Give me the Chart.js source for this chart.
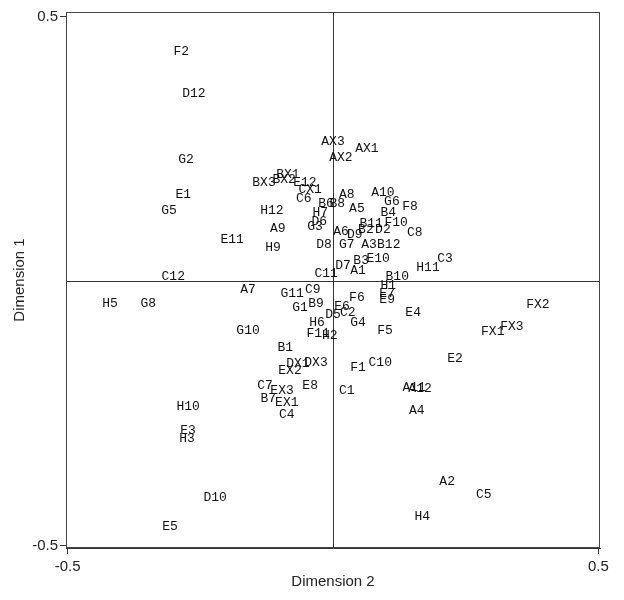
<!DOCTYPE html>
<html><head><meta charset="utf-8">
<script src="https://cdn.jsdelivr.net/npm/chart.js@4/dist/chart.umd.min.js"></script>
<style>html,body{margin:0;padding:0;background:#fff}</style></head>
<body><canvas id="c" width="624" height="600"></canvas>
<script>
const pointLabels = ["F2","D12","AX3","AX1","AX2","G2","BX1","BX3","BX2","E12","CX1","C6","E1","G5","A8","A10","G6","F8","A5","B4","H12","A9","G3","E11","H9","B11","F10","B2","D2","C8","D9","A6","G7","A3","B12","D8","E10","B3","D7","A1","C3","H11","B10","C11","H1","E7","E9","F6","E6","D5","C2","G4","G11","C9","G1","B9","H6","F11","H2","F5","E4","B1","C12","H5","G8","A7","G10","DX1","DX3","EX2","E8","C7","EX3","B7","EX1","C4","C1","F1","C10","A12","A4","E2","FX2","FX1","FX3","H10","E3","H3","D10","E5","A2","C5","H4","B6","B8","H7","D6","A11"];
const dim2 = [-0.286,-0.262,0.000,0.064,0.015,-0.277,-0.085,-0.130,-0.092,-0.053,-0.043,-0.055,-0.282,-0.309,0.026,0.094,0.111,0.145,0.045,0.104,-0.115,-0.104,-0.034,-0.190,-0.113,0.072,0.119,0.062,0.094,0.154,0.041,0.015,0.026,0.068,0.105,-0.017,0.085,0.053,0.019,0.047,0.211,0.179,0.121,-0.013,0.104,0.102,0.102,0.045,0.017,0.000,0.028,0.047,-0.077,-0.038,-0.062,-0.032,-0.030,-0.028,-0.006,0.098,0.151,-0.090,-0.301,-0.420,-0.348,-0.160,-0.160,-0.066,-0.032,-0.081,-0.043,-0.128,-0.096,-0.122,-0.087,-0.087,0.026,0.047,0.089,0.164,0.158,0.230,0.386,0.301,0.337,-0.273,-0.273,-0.275,-0.222,-0.307,0.215,0.284,0.168,-0.013,0.008,-0.024,-0.026,0.153];
const dim1 = [0.433,0.355,0.263,0.251,0.234,0.229,0.202,0.187,0.191,0.187,0.172,0.155,0.163,0.134,0.164,0.168,0.151,0.140,0.136,0.129,0.134,0.100,0.102,0.079,0.064,0.108,0.110,0.098,0.098,0.091,0.087,0.093,0.068,0.068,0.068,0.068,0.043,0.038,0.030,0.019,0.043,0.026,0.008,0.015,-0.008,-0.023,-0.036,-0.032,-0.049,-0.064,-0.060,-0.079,-0.023,-0.017,-0.051,-0.042,-0.078,-0.100,-0.104,-0.093,-0.060,-0.125,0.008,-0.042,-0.042,-0.017,-0.093,-0.157,-0.155,-0.170,-0.197,-0.198,-0.208,-0.223,-0.229,-0.253,-0.208,-0.163,-0.155,-0.204,-0.244,-0.147,-0.045,-0.096,-0.087,-0.238,-0.282,-0.297,-0.410,-0.465,-0.380,-0.403,-0.446,0.147,0.146,0.129,0.113,-0.202];
const axisTickValues = [-0.5, 0.5];
const axisTickLabels = ["-0.5", "0.5"];

const points = dim2.map((x, i) => ({x: x, y: dim1[i]}));

const labelPlugin = {
  id: 'labelPlugin',
  beforeDatasetsDraw(chart) {
    const {ctx, chartArea: a, scales: {x, y}} = chart;
    ctx.save();
    ctx.strokeStyle = '#333';
    ctx.lineWidth = 1;
    ctx.beginPath();
    const x0 = Math.round(x.getPixelForValue(0)) + 0.5;
    const y0 = Math.round(y.getPixelForValue(0)) + 0.5;
    ctx.moveTo(x0, a.top); ctx.lineTo(x0, a.bottom);
    ctx.moveTo(a.left, y0); ctx.lineTo(a.right, y0);
    ctx.stroke();
    ctx.strokeStyle = '#444';
    ctx.strokeRect(a.left + 0.5, a.top + 0.5, a.right - a.left - 1, a.bottom - a.top - 1);
    ctx.restore();
  },
  afterDatasetsDraw(chart) {
    const {ctx, scales: {x, y}} = chart;
    ctx.save();
    ctx.font = '13px "Liberation Mono", "DejaVu Sans Mono", monospace';
    ctx.fillStyle = '#111';
    ctx.textAlign = 'center';
    ctx.textBaseline = 'middle';
    pointLabels.forEach((t, i) => {
      ctx.fillText(t, x.getPixelForValue(dim2[i]), y.getPixelForValue(dim1[i]));
    });
    ctx.restore();
  }
};

function fixedTicks(scale) {
  scale.ticks = axisTickValues.map(v => ({value: v}));
}
function fmt(v) {
  const i = axisTickValues.indexOf(v);
  return i >= 0 ? axisTickLabels[i] : '';
}

new Chart(document.getElementById('c'), {
  type: 'scatter',
  data: {datasets: [{data: points, pointRadius: 0, pointHoverRadius: 0, showLine: false}]},
  options: {
    responsive: false,
    animation: false,
    events: [],
    layout: {padding: {top: 12, right: 24, left: 0, bottom: 0}},
    plugins: {legend: {display: false}, tooltip: {enabled: false}},
    scales: {
      x: {
        type: 'linear', min: -0.503, max: 0.503,
        afterBuildTicks: fixedTicks,
        afterFit(s) { s.height = 52; },
        grid: {display: true, drawOnChartArea: false, drawTicks: true, tickLength: 6, color: '#333'},
        border: {display: true, color: '#333'},
        ticks: {callback: fmt, color: '#222', font: {family: 'Liberation Sans, Arial, sans-serif', size: 15}, padding: 4, maxRotation: 0, autoSkip: false},
        title: {display: true, text: 'Dimension 2', color: '#222', font: {family: 'Liberation Sans, Arial, sans-serif', size: 15}, padding: {top: 0, bottom: 9}}
      },
      y: {
        type: 'linear', min: -0.5047, max: 0.5085,
        afterBuildTicks: fixedTicks,
        afterFit(s) { s.width = 66; },
        grid: {display: true, drawOnChartArea: false, drawTicks: true, tickLength: 6, color: '#333'},
        border: {display: true, color: '#333'},
        ticks: {callback: fmt, color: '#222', font: {family: 'Liberation Sans, Arial, sans-serif', size: 15}, padding: 2, autoSkip: false},
        title: {display: true, text: 'Dimension 1', color: '#222', font: {family: 'Liberation Sans, Arial, sans-serif', size: 15}, padding: {top: 11, bottom: 0}}
      }
    }
  },
  plugins: [labelPlugin]
});
</script>
</body></html>
